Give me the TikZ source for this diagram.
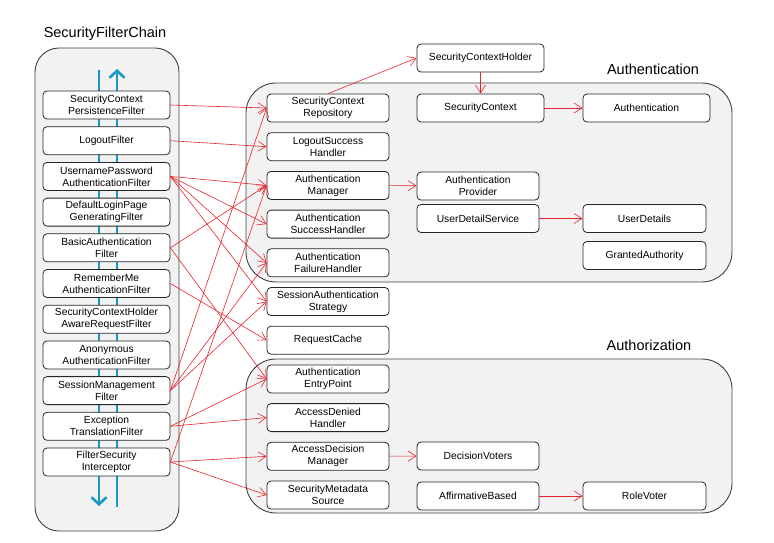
\documentclass[tikz,border=0pt]{standalone}
\usepackage{fontspec}
\setmainfont{Liberation Sans}
\usepackage{tikz}
\usetikzlibrary{arrows.meta,positioning,backgrounds}
\definecolor{FlowBlue}{RGB}{24,152,196}
\definecolor{LinkRed}{RGB}{230,35,45}
\definecolor{PanelGray}{RGB}{242,242,242}
\tikzset{
  panel/.style={draw=black!75,fill=PanelGray,line width=0.9pt,rounded corners=24pt},
  ptitle/.style={font=\fontsize{14.5}{16}\selectfont,inner sep=0pt},
  comp/.style={rounded corners=4pt,draw=black!85,fill=white,line width=0.8pt,
               minimum height=28pt,inner sep=1pt,align=center,
               font=\fontsize{10.3}{12}\selectfont},
  filt/.style={comp,minimum width=127pt},
  part/.style={comp,minimum width=122pt},
  link/.style={-{Straight Barb[length=8pt,width=10pt]},LinkRed,line width=0.6pt},
  flow/.style={-{Straight Barb[length=7pt,width=15pt]},FlowBlue,line width=2.6pt},
}

\begin{document}
\begin{tikzpicture}[x=1pt,y=-1pt]
  \useasboundingbox (0,0) rectangle (774,542);

  % filter chain column
  \node[ptitle] (chaintitle) at (105,34) {SecurityFilterChain};
  \foreach \n/\t [count=\i from 0] in {
      scpf/{SecurityContext\\PersistenceFilter},
      logout/{LogoutFilter},
      upaf/{UsernamePassword\\AuthenticationFilter},
      dlpg/{DefaultLoginPage\\GeneratingFilter},
      basic/{BasicAuthentication\\Filter},
      remember/{RememberMe\\AuthenticationFilter},
      holderaware/{SecurityContextHolder\\AwareRequestFilter},
      anon/{Anonymous\\AuthenticationFilter},
      smf/{SessionManagement\\Filter},
      etf/{Exception\\TranslationFilter},
      fsi/{FilterSecurity\\Interceptor}}
    \node[filt] (\n) at (106.5,{105+35.7*\i}) {\t};

  % shared components
  \foreach \n/\t [count=\i from 0] in {
      repo/{SecurityContext\\Repository},
      logoutok/{LogoutSuccess\\Handler},
      authmgr/{Authentication\\Manager},
      authok/{Authentication\\SuccessHandler},
      authfail/{Authentication\\FailureHandler},
      sessstrat/{SessionAuthentication\\Strategy},
      reqcache/{RequestCache},
      entry/{Authentication\\EntryPoint},
      denied/{AccessDenied\\Handler},
      decmgr/{AccessDecision\\Manager},
      metasrc/{SecurityMetadata\\Source}}
    \node[part] (\n) at (328,{108+38.7*\i}) {\t};

  % authentication side
  \node[ptitle] (authntitle) at (653,69) {Authentication};
  \node[filt] (holder) at (480.5,58) {SecurityContextHolder};
  \node[filt] (context) at (480.5,108) {SecurityContext};
  \node[filt] (authn) at (646.5,108) {Authentication};
  \node[part] (provider) at (478,186) {Authentication\\Provider};
  \node[part] (uds) at (478,218.5) {UserDetailService};
  \node[part,minimum width=123pt] (userdet) at (644.5,218.5) {UserDetails};
  \node[part,minimum width=123pt] (granted) at (644.5,255.5) {GrantedAuthority};

  % authorization side
  \node[ptitle] (authztitle) at (649,345) {Authorization};
  \node[part] (voters) at (478,456) {DecisionVoters};
  \node[part] (affirm) at (478,496) {AffirmativeBased};
  \node[part,minimum width=123pt] (rolevoter) at (644.5,496) {RoleVoter};

  \begin{scope}[on background layer]
    \draw[panel] (35,48) rectangle (179,531);
    \draw[panel,rounded corners=30pt] (246,83) rectangle (732,282);
    \draw[panel,rounded corners=30pt] (246,359) rectangle (732,513);
    \coordinate (downtop) at (99,70);
    \coordinate (downend) at (99,506);
    \coordinate (upbot) at (117,507);
    \coordinate (upend) at (117,69);
    \draw[flow] (downtop) -- (downend);
    \draw[flow] (upbot) -- (upend);
  \end{scope}

  % filter -> component
  \foreach \a/\b in {scpf/repo,logout/logoutok,
      upaf/authmgr,upaf/authok,upaf/authfail,upaf/sessstrat,
      basic/authmgr,basic/entry,remember/reqcache,
      smf/repo,smf/authfail,smf/sessstrat,
      etf/entry,etf/denied,fsi/authmgr,fsi/decmgr,fsi/metasrc}
    \draw[link] (\a.east) -- (\b.west);

  \draw[link] (repo.north) -- (holder.west);
  \draw[link] (holder) -- (context);
  \draw[link] (context) -- (authn);
  \draw[link] (authmgr) -- (provider);
  \draw[link] (uds) -- (userdet);
  \draw[link] (decmgr) -- (voters);
  \draw[link] (affirm) -- (rolevoter);
\end{tikzpicture}
\end{document}
